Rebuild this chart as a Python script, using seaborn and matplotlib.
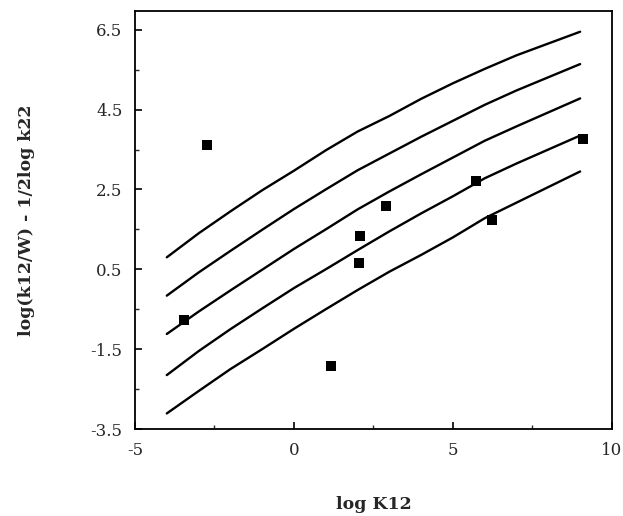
import numpy as np
import pandas as pd
import matplotlib
matplotlib.use('Agg')
import matplotlib.pyplot as plt
from matplotlib.ticker import MultipleLocator, FixedLocator
import seaborn as sns

# curve values (x = log K12)
curve_x = [-4, -3, -2, -1, 0, 1, 2, 3, 4, 5, 6, 7, 9]
curve_1 = [0.80, 1.40, 1.95, 2.48, 2.97, 3.48, 3.95, 4.34, 4.77, 5.16, 5.52, 5.86, 6.45]
curve_2 = [-0.16, 0.42, 0.96, 1.49, 2.01, 2.50, 2.98, 3.40, 3.82, 4.22, 4.62, 4.98, 5.64]
curve_3 = [-1.12, -0.56, -0.03, 0.49, 1.01, 1.50, 2.00, 2.45, 2.88, 3.30, 3.72, 4.08, 4.78]
curve_4 = [-2.15, -1.55, -1.00, -0.48, 0.03, 0.50, 0.98, 1.45, 1.90, 2.33, 2.78, 3.15, 3.85]
curve_5 = [-3.11, -2.55, -2.00, -1.50, -0.99, -0.50, -0.02, 0.44, 0.86, 1.30, 1.78, 2.17, 2.95]

# measured points
pts_x = [-3.46, -2.73, 1.17, 2.03, 2.08, 2.91, 5.72, 6.24, 9.10]
pts_y = [-0.78, 3.62, -1.93, 0.67, 1.33, 2.08, 2.72, 1.74, 3.77]

curves = pd.concat([
    pd.DataFrame({'x': curve_x, 'y': ys, 'curve': name})
    for name, ys in [('c1', curve_1), ('c2', curve_2), ('c3', curve_3),
                     ('c4', curve_4), ('c5', curve_5)]
], ignore_index=True)
points = pd.DataFrame({'x': pts_x, 'y': pts_y})

sns.set_style('ticks')
plt.rcParams['font.family'] = ['DejaVu Serif']
plt.rcParams['axes.unicode_minus'] = False

fig = plt.figure(figsize=(6.23, 5.16), dpi=100)
ax = fig.add_axes([0.2167, 0.1686, 0.7655, 0.8101])

sns.lineplot(data=curves, x='x', y='y', units='curve', estimator=None,
             color='black', linewidth=1.7, ax=ax, sort=False)
sns.scatterplot(data=points, x='x', y='y', marker='s', s=42, color='black',
                edgecolor='black', linewidth=0, ax=ax, zorder=3)

ax.set_xlim(-5, 10)
ax.set_ylim(-3.5, 6.97)
ax.set_xticks([-5, 0, 5, 10])
ax.set_yticks([-3.5, -1.5, 0.5, 2.5, 4.5, 6.5])
ax.set_yticklabels(['-3.5', '-1.5', '0.5', '2.5', '4.5', '6.5'])
ax.xaxis.set_minor_locator(MultipleLocator(2.5))
ax.yaxis.set_minor_locator(FixedLocator([-2.5, -0.5, 1.5, 3.5, 5.5]))
ax.tick_params(which='major', direction='in', length=5, width=1.2,
               labelsize=12, pad=9, color='black')
ax.tick_params(which='minor', direction='in', length=3, width=1.0)

for side in ['top', 'right', 'bottom', 'left']:
    ax.spines[side].set_visible(True)
    ax.spines[side].set_color('black')
    ax.spines[side].set_linewidth(1.3)

ax.set_xlabel('log K12', fontsize=12.5, fontweight='bold', labelpad=27)
ax.set_ylabel('log(k12/W) - 1/2log k22', fontsize=12.5, fontweight='bold',
              labelpad=40)

fig.savefig('out.png', dpi=100)
